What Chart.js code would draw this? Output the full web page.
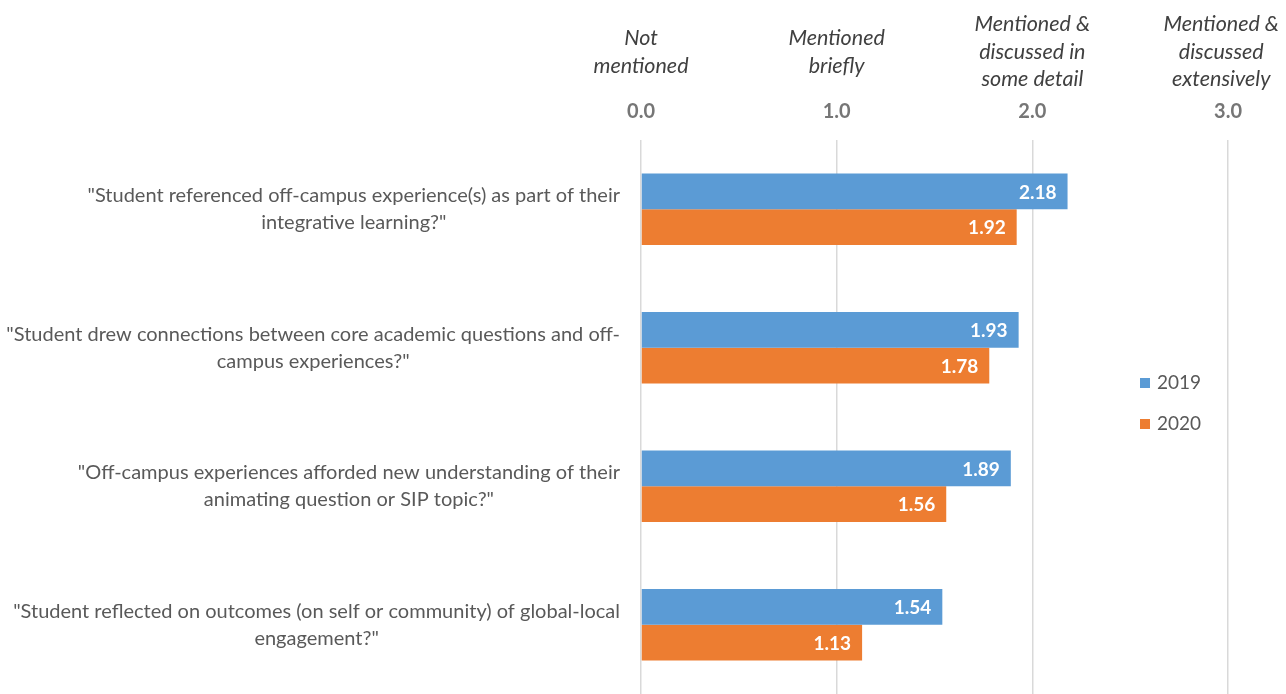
<!DOCTYPE html>
<html>
<head>
<meta charset="utf-8">
<style>
  html, body { margin: 0; padding: 0; background: #fff; }
  #wrap { width: 1286px; height: 694px; }
</style>
<script src="https://cdn.jsdelivr.net/npm/chart.js@4/dist/chart.umd.min.js"></script>
</head>
<body>
<div id="wrap"><canvas id="chart"></canvas></div>
<script>
/* ---------- DATA ---------- */
const questions = [
  ['"Student referenced off-campus experience(s) as part of their', 'integrative learning?"'],
  ['"Student drew connections between core academic questions and off-', 'campus experiences?"'],
  ['"Off-campus experiences afforded new understanding of their', 'animating question or SIP topic?"'],
  ['"Student reflected on outcomes (on self or community) of global-local', 'engagement?"']
];
const years = ['2019', '2020'];
const scores2019 = [2.18, 1.93, 1.89, 1.54];
const scores2020 = [1.92, 1.78, 1.56, 1.13];
const scaleTicks = [0, 1, 2, 3];
const scaleWords = [
  ['Not', 'mentioned'],
  ['Mentioned', 'briefly'],
  ['Mentioned &', 'discussed in', 'some detail'],
  ['Mentioned &', 'discussed', 'extensively']
];

const BLUE = '#5b9bd5';
const ORANGE = '#ed7d31';
const FONT = 'Lato, "Open Sans", sans-serif';

/* ---------- PLUGINS ---------- */
// question text left of the bars, each block centred on itself, right edge fixed
const questionLabels = {
  id: 'questionLabels',
  afterDraw(chart) {
    const ctx = chart.ctx;
    const y = chart.scales.y;
    const right = chart.chartArea.left - 21;
    ctx.save();
    ctx.font = '20px ' + FONT;
    ctx.fillStyle = '#595959';
    ctx.textBaseline = 'middle';
    ctx.textAlign = 'center';
    questions.forEach((lines, i) => {
      const w = Math.max(...lines.map(l => ctx.measureText(l).width));
      const cx = right - w / 2;
      const cy = y.getPixelForValue(i);
      const lh = 27;
      lines.forEach((l, k) => {
        ctx.fillText(l, cx, cy + (k - (lines.length - 1) / 2) * lh);
      });
    });
    ctx.restore();
  }
};

// italic descriptions above the score ticks
const scaleDescriptions = {
  id: 'scaleDescriptions',
  afterDraw(chart) {
    const ctx = chart.ctx;
    const x = chart.scales.x;
    ctx.save();
    ctx.font = 'italic 21.5px ' + FONT;
    ctx.fillStyle = '#404040';
    ctx.textBaseline = 'middle';
    ctx.textAlign = 'center';
    scaleTicks.forEach((v, i) => {
      const lines = scaleWords[i];
      const w = Math.max(...lines.map(l => ctx.measureText(l).width));
      let cx = x.getPixelForValue(v);
      if (cx + w / 2 > chart.width - 7) cx = chart.width - 7 - w / 2;
      const lh = 27.5;
      const top = 52 - (lines.length - 1) * lh / 2;
      lines.forEach((l, k) => ctx.fillText(l, cx, top + k * lh));
    });
    ctx.restore();
  }
};

// value printed inside the end of each bar
const barValues = {
  id: 'barValues',
  afterDatasetsDraw(chart) {
    const ctx = chart.ctx;
    ctx.save();
    ctx.font = 'bold 19px ' + FONT;
    ctx.fillStyle = '#ffffff';
    ctx.textAlign = 'right';
    ctx.textBaseline = 'middle';
    chart.data.datasets.forEach((ds, di) => {
      chart.getDatasetMeta(di).data.forEach((bar, i) => {
        ctx.fillText(ds.data[i].toFixed(2), bar.x - 11, bar.y + 1);
      });
    });
    ctx.restore();
  }
};

// small legend sitting inside the plot on the right
const sideLegend = {
  id: 'sideLegend',
  afterDraw(chart) {
    const ctx = chart.ctx;
    ctx.save();
    ctx.font = '19px ' + FONT;
    ctx.textBaseline = 'middle';
    ctx.textAlign = 'left';
    chart.data.datasets.forEach((ds, i) => {
      const y = 383 + i * 41;
      ctx.fillStyle = ds.backgroundColor;
      ctx.fillRect(1140, y - 5, 10, 10);
      ctx.fillStyle = '#595959';
      ctx.fillText(ds.label, 1157, y);
    });
    ctx.restore();
  }
};

/* ---------- CHART ---------- */
new Chart(document.getElementById('chart'), {
  type: 'bar',
  data: {
    labels: questions,
    datasets: [
      { label: years[0], data: scores2019, backgroundColor: BLUE },
      { label: years[1], data: scores2020, backgroundColor: ORANGE }
    ]
  },
  options: {
    indexAxis: 'y',
    responsive: true,
    maintainAspectRatio: false,
    animation: false,
    layout: { padding: { left: 633, right: 58, top: 84, bottom: 0 } },
    datasets: { bar: { categoryPercentage: 0.515, barPercentage: 1.0 } },
    plugins: { legend: { display: false }, tooltip: { enabled: false } },
    scales: {
      x: {
        position: 'top',
        min: 0,
        max: 3,
        afterBuildTicks(scale) { scale.ticks = scaleTicks.map(v => ({ value: v })); },
        grid: { color: '#d9d9d9', lineWidth: 1.5, drawTicks: false },
        border: { display: false },
        ticks: {
          padding: 16,
          color: '#767676',
          font: { family: FONT, size: 20, weight: 'bold' },
          callback: v => v.toFixed(1)
        }
      },
      y: {
        grid: { display: false },
        border: { display: false },
        ticks: { display: false }
      }
    }
  },
  plugins: [questionLabels, scaleDescriptions, barValues, sideLegend]
});
</script>
</body>
</html>
